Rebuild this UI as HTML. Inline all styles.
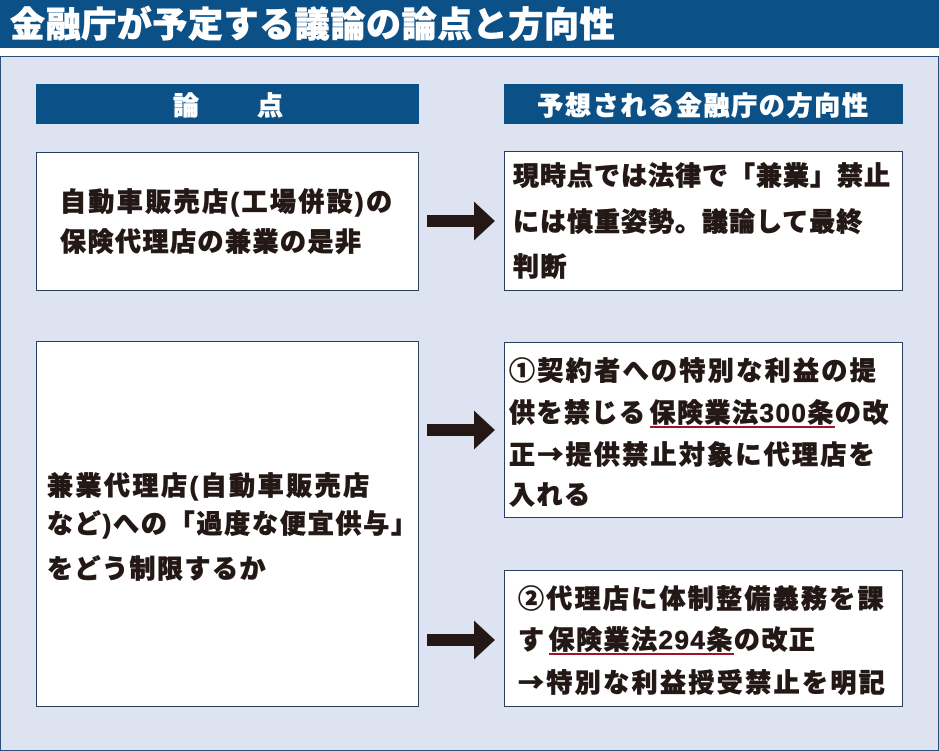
<!DOCTYPE html>
<html><head><meta charset="utf-8">
<style>
*{margin:0;padding:0;box-sizing:border-box}
body{width:939px;height:751px;background:#fff;position:relative;overflow:hidden;font-family:"Liberation Sans","Noto Sans CJK JP",sans-serif;font-weight:900;}
.a{position:absolute}
#title{left:0;top:0;width:939px;height:48px;background:#0b5087;}
#tt{left:10px;top:8px;font-size:35px;line-height:35px;color:#fff;letter-spacing:0.6px;white-space:nowrap;-webkit-text-stroke:0.6px #fff}
#panel{left:0;top:56px;width:939px;height:695px;background:#dde3f1;border:1.5px solid #2d4e78}
.hdr{background:#0b5087;height:40px;top:84px}
.box{background:#fff;border:1px solid #2a3f5e}
.t{font-size:26px;line-height:26px;letter-spacing:1.5px;color:#231815;white-space:nowrap;-webkit-text-stroke:0.6px #231815}
.h{font-size:26px;line-height:26px;color:#fff;white-space:nowrap;-webkit-text-stroke:0.5px #fff}
.u{display:inline-block;line-height:26px;border-bottom:2.5px solid #a3122c;margin-left:3px}
.ar{font-family:"Noto Sans CJK JP",sans-serif}
</style>
</head>
<body>
<div class="a" id="title"></div>
<div class="a" id="tt">金融庁が予定する議論の論点と方向性</div>
<div class="a" id="panel"></div>

<!-- headers -->
<div class="a hdr" style="left:36px;width:383px;"></div>
<div class="a h" style="left:173px;top:93px;">論</div>
<div class="a h" style="left:257px;top:93px;">点</div>
<div class="a hdr" style="left:504px;width:399px;"></div>
<div class="a h" style="left:504px;width:399px;top:93px;text-align:center;letter-spacing:1.7px;">予想される金融庁の方向性</div>

<!-- boxes -->
<div class="a box" style="left:36px;top:152px;width:383px;height:139px;"></div>
<div class="a box" style="left:36px;top:341px;width:383px;height:366px;"></div>
<div class="a box" style="left:504px;top:151px;width:399px;height:140px;"></div>
<div class="a box" style="left:504px;top:342px;width:399px;height:176px;"></div>
<div class="a box" style="left:504px;top:570px;width:399px;height:137px;"></div>

<!-- left box 1 -->
<div class="a t" style="left:60px;top:189px;letter-spacing:2.4px;">自動車販売店(工場併設)の</div>
<div class="a t" style="left:60px;top:229px;">保険代理店の兼業の是非</div>

<!-- left box 2 -->
<div class="a t" style="left:47px;top:473px;letter-spacing:2.5px;">兼業代理店(自動車販売店</div>
<div class="a t" style="left:47px;top:511px;letter-spacing:1.8px;">など)への「過度な便宜供与」</div>
<div class="a t" style="left:47px;top:556px;">をどう制限するか</div>

<!-- right box 1 -->
<div class="a t" style="left:513px;top:163px;letter-spacing:1px;">現時点では法律で「兼業」禁止</div>
<div class="a t" style="left:513px;top:209px;letter-spacing:1px;">には慎重姿勢。議論して最終</div>
<div class="a t" style="left:513px;top:254px;">判断</div>

<!-- right box 2 -->
<div class="a t" style="left:509px;top:358px;letter-spacing:2.4px;">①契約者への特別な利益の提</div>
<div class="a t" style="left:509px;top:400px;">供を禁じる<span class="u">保険業法300条</span>の改</div>
<div class="a t" style="left:509px;top:441px;letter-spacing:2.3px;">正<span class="ar">→</span>提供禁止対象に代理店を</div>
<div class="a t" style="left:509px;top:482px;">入れる</div>

<!-- right box 3 -->
<div class="a t" style="left:518px;top:586px;letter-spacing:2.3px;">②代理店に体制整備義務を課</div>
<div class="a t" style="left:518px;top:627px;">す<span class="u">保険業法294条</span>の改正</div>
<div class="a t" style="left:518px;top:669px;letter-spacing:2.4px;"><span class="ar">→</span>特別な利益授受禁止を明記</div>

<!-- arrows -->
<svg class="a" style="left:0;top:0;" width="939" height="751" viewBox="0 0 939 751">
<g fill="#231815">
<polygon points="427,215 474,215 474,201.5 495,221 474,240.5 474,227 427,227"/>
<polygon points="427,424 474,424 474,410.5 495,430 474,449.5 474,436 427,436"/>
<polygon points="427,634 474,634 474,620.5 495,640 474,659.5 474,646 427,646"/>
</g>
</svg>
</body></html>
